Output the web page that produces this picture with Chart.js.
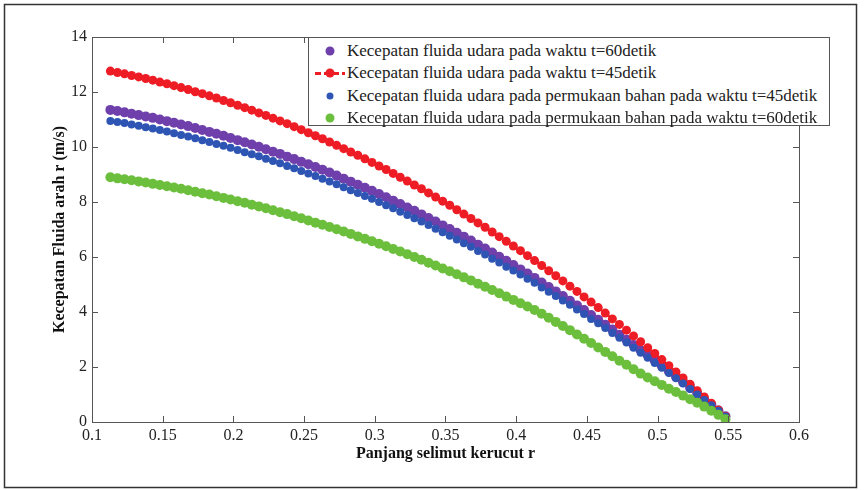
<!DOCTYPE html>
<html>
<head>
<meta charset="utf-8">
<script src="https://cdn.jsdelivr.net/npm/chart.js@4"></script>
<style>
  body { margin: 0; background: #fff; }
  #wrap { position: relative; width: 867px; height: 490px; }
  #legend {
    position: absolute; left: 308px; top: 37px; width: 522px; height: 89px;
    border: 1px solid #555; background: #fff; box-sizing: border-box;
    font-family: 'Liberation Serif', serif; font-size: 17px; color: #222;
    padding-top: 2px;
  }
  .row { position: relative; height: 22.3px; line-height: 22.3px; padding-left: 38px; white-space: nowrap; }
  .mk { position: absolute; top: 50%; transform: translate(-50%, -50%); left: 21px; border-radius: 50%; }
  .dash { position: absolute; left: 6px; width: 30px; top: 50%; height: 3px; margin-top: -1px;
    background: repeating-linear-gradient(90deg, #ee1c24 0 6px, transparent 6px 9px); }
</style>
</head>
<body>
<div id="wrap">
  <canvas id="chart"></canvas>
  <div id="legend"></div>
</div>
<script>
// data
const xValues = [
  0.113,0.118,0.123,0.128,0.133,0.138,0.143,0.148,0.153,0.158,
  0.163,0.168,0.173,0.178,0.183,0.188,0.193,0.198,0.203,0.208,
  0.213,0.218,0.223,0.228,0.233,0.238,0.243,0.248,0.253,0.258,
  0.263,0.268,0.273,0.278,0.283,0.288,0.293,0.298,0.303,0.308,
  0.313,0.318,0.323,0.328,0.333,0.338,0.343,0.348,0.353,0.358,
  0.363,0.368,0.373,0.378,0.383,0.388,0.393,0.398,0.403,0.408,
  0.413,0.418,0.423,0.428,0.433,0.438,0.443,0.448,0.453,0.458,
  0.463,0.468,0.473,0.478,0.483,0.488,0.493,0.498,0.503,0.508,
  0.513,0.518,0.523,0.528,0.533,0.538,0.543,0.548
];

// t=60 s
const purpleValues = [
  11.35,11.31,11.26,11.21,11.16,11.11,11.06,11.00,10.94,10.88,
  10.82,10.76,10.69,10.62,10.55,10.48,10.41,10.33,10.25,10.17,
  10.09,10.01,9.92,9.83,9.75,9.65,9.56,9.46,9.37,9.27,
  9.17,9.07,8.96,8.85,8.74,8.63,8.52,8.41,8.29,8.17,
  8.05,7.93,7.80,7.68,7.55,7.42,7.29,7.15,7.02,6.88,
  6.74,6.60,6.45,6.31,6.16,6.01,5.86,5.71,5.55,5.40,
  5.24,5.07,4.91,4.75,4.58,4.41,4.24,4.07,3.89,3.72,
  3.54,3.36,3.17,2.99,2.80,2.61,2.43,2.23,2.04,1.84,
  1.65,1.45,1.24,1.04,0.83,0.63,0.42,0.21
];

// t=45 s
const redValues = [
  12.76,12.71,12.66,12.60,12.55,12.49,12.43,12.36,12.30,12.23,
  12.16,12.09,12.01,11.94,11.86,11.78,11.69,11.61,11.52,11.43,
  11.34,11.24,11.15,11.05,10.95,10.85,10.74,10.63,10.52,10.41,
  10.30,10.18,10.06,9.94,9.82,9.70,9.57,9.44,9.31,9.18,
  9.04,8.90,8.76,8.62,8.48,8.33,8.18,8.03,7.88,7.72,
  7.56,7.40,7.24,7.08,6.91,6.74,6.57,6.40,6.23,6.05,
  5.87,5.69,5.50,5.32,5.13,4.94,4.75,4.55,4.36,4.16,
  3.96,3.75,3.55,3.34,3.13,2.92,2.70,2.49,2.27,2.05,
  1.82,1.60,1.37,1.14,0.91,0.68,0.44,0.20
];

// permukaan bahan t=45 s
const blueValues = [
  10.95,10.91,10.87,10.82,10.77,10.72,10.67,10.62,10.56,10.50,
  10.44,10.38,10.32,10.25,10.18,10.11,10.05,9.97,9.89,9.81,
  9.74,9.66,9.57,9.49,9.41,9.31,9.23,9.13,9.04,8.95,
  8.85,8.75,8.65,8.54,8.43,8.33,8.22,8.12,8.00,7.88,
  7.77,7.65,7.53,7.41,7.29,7.16,7.03,6.90,6.77,6.64,
  6.50,6.37,6.22,6.09,5.94,5.80,5.65,5.51,5.36,5.21,
  5.06,4.89,4.74,4.58,4.42,4.26,4.09,3.93,3.75,3.59,
  3.42,3.24,3.06,2.89,2.70,2.52,2.34,2.15,1.97,1.78,
  1.59,1.40,1.20,1.00,0.80,0.61,0.41,0.20
];

// permukaan bahan t=60 s
const greenValues = [
  8.90,8.86,8.83,8.79,8.75,8.71,8.66,8.62,8.57,8.53,
  8.48,8.43,8.37,8.32,8.27,8.21,8.15,8.09,8.03,7.97,
  7.90,7.84,7.77,7.70,7.63,7.56,7.48,7.41,7.33,7.25,
  7.17,7.09,7.01,6.93,6.84,6.75,6.66,6.57,6.48,6.39,
  6.29,6.20,6.10,6.00,5.90,5.79,5.69,5.58,5.48,5.37,
  5.26,5.15,5.03,4.92,4.80,4.68,4.56,4.44,4.32,4.20,
  4.07,3.94,3.79,3.64,3.49,3.34,3.18,3.03,2.87,2.71,
  2.55,2.39,2.23,2.08,1.92,1.76,1.62,1.48,1.35,1.21,
  1.09,0.96,0.83,0.70,0.56,0.41,0.26,0.10
];

const seriesNames = [
  'Kecepatan fluida udara pada waktu t=60detik',
  'Kecepatan fluida udara pada waktu t=45detik',
  'Kecepatan fluida udara pada permukaan bahan pada waktu t=45detik',
  'Kecepatan fluida udara pada permukaan bahan pada waktu t=60detik'
];
const xTickLabels = ['0.1','0.15','0.2','0.25','0.3','0.35','0.4','0.45','0.5','0.55','0.6'];
const yTickLabels = ['0','2','4','6','8','10','12','14'];

const colors = ['#6f3fab', '#ee1c24', '#2e55b4', '#6cbf3c'];
const radii = [5, 4.5, 4, 5];

const pts = vals => vals.map((v, i) => ({ x: xValues[i], y: v }));

const FONT = "'Liberation Serif', serif";

// outer frame, axes box and inward ticks like the matlab figure
const framePlugin = {
  id: 'frame',
  beforeDraw(chart) {
    const c = chart.ctx;
    c.save();
    c.strokeStyle = '#333';
    c.lineWidth = 1.5;
    c.strokeRect(4.5, 4.5, 852, 483);
    c.restore();
  },
  afterDraw(chart) {
    const c = chart.ctx;
    const a = chart.chartArea;
    const sx = chart.scales.x, sy = chart.scales.y;
    c.save();
    c.strokeStyle = '#555';
    c.lineWidth = 1;
    c.strokeRect(a.left + 0.5, a.top + 0.5, a.right - a.left, a.bottom - a.top);
    c.beginPath();
    sx.ticks.forEach(t => {
      const px = Math.round(sx.getPixelForValue(t.value)) + 0.5;
      c.moveTo(px, a.bottom); c.lineTo(px, a.bottom - 6);
      c.moveTo(px, a.top); c.lineTo(px, a.top + 6);
    });
    sy.ticks.forEach(t => {
      const py = Math.round(sy.getPixelForValue(t.value)) + 0.5;
      c.moveTo(a.left, py); c.lineTo(a.left + 6, py);
      c.moveTo(a.right, py); c.lineTo(a.right - 6, py);
    });
    c.stroke();
    c.restore();
  }
};

new Chart(document.getElementById('chart'), {
  type: 'scatter',
  data: {
    datasets: [
      { label: seriesNames[0], data: pts(purpleValues), order: 4 },
      { label: seriesNames[1], data: pts(redValues), order: 3, showLine: true,
        borderColor: colors[1], borderWidth: 2, borderDash: [6, 4] },
      { label: seriesNames[2], data: pts(blueValues), order: 2 },
      { label: seriesNames[3], data: pts(greenValues), order: 1 }
    ].map((d, i) => Object.assign({
      pointRadius: radii[i],
      pointHoverRadius: radii[i],
      pointBackgroundColor: colors[i],
      pointBorderWidth: 0,
      backgroundColor: colors[i]
    }, d))
  },
  options: {
    responsive: true,
    maintainAspectRatio: false,
    animation: false,
    layout: { padding: { left: 0, right: 68, top: 37, bottom: 18 } },
    scales: {
      x: {
        type: 'linear', min: 0.1, max: 0.6,
        afterFit: s => { s.height = 50; },
        grid: { display: false, drawTicks: false },
        border: { display: false },
        ticks: {
          stepSize: 0.05, padding: 4, maxRotation: 0, autoSkip: false,
          color: '#222', font: { family: FONT, size: 16 },
          callback: (v, i) => xTickLabels[i]
        },
        title: {
          display: true, text: 'Panjang selimut kerucut r', color: '#111',
          font: { family: FONT, size: 16, weight: 'bold' },
          padding: { top: 0, bottom: 9 }
        }
      },
      y: {
        min: 0, max: 14,
        afterFit: s => { s.width = 92; },
        grid: { display: false, drawTicks: false },
        border: { display: false },
        ticks: {
          stepSize: 2, padding: 5, color: '#222', font: { family: FONT, size: 16 },
          callback: (v, i) => yTickLabels[i]
        },
        title: {
          display: true, text: 'Kecepatan Fluida arah r (m/s)', color: '#111',
          font: { family: FONT, size: 16, weight: 'bold' },
          padding: { top: 50, bottom: 0 }
        }
      }
    },
    plugins: {
      legend: { display: false },
      tooltip: { enabled: false }
    }
  },
  plugins: [framePlugin]
});

// legend box
const legend = document.getElementById('legend');
seriesNames.forEach((name, i) => {
  const row = document.createElement('div');
  row.className = 'row';
  if (i === 1) {
    const d = document.createElement('span');
    d.className = 'dash';
    row.appendChild(d);
  }
  const m = document.createElement('span');
  m.className = 'mk';
  const sz = i === 2 ? 7 : 9;
  m.style.width = sz + 'px';
  m.style.height = sz + 'px';
  m.style.background = colors[i];
  row.appendChild(m);
  row.appendChild(document.createTextNode(name));
  legend.appendChild(row);
});
</script>
</body>
</html>
